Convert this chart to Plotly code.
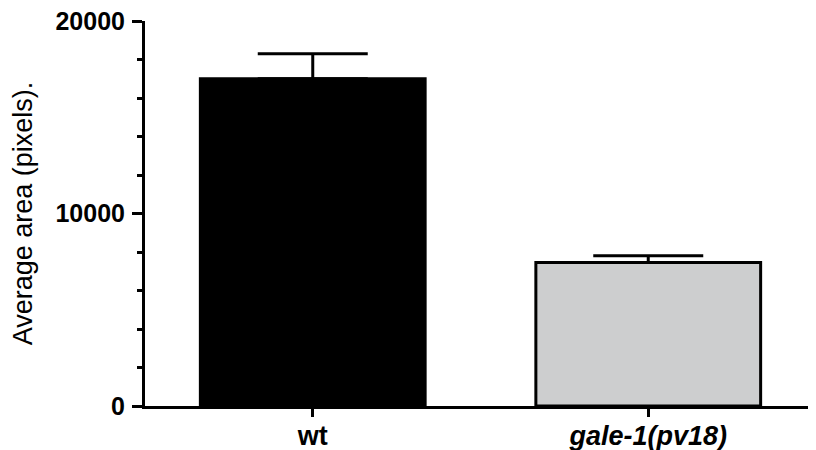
import plotly.graph_objects as go

categories = ["wt", "gale-1(pv18)"]
tick_labels = ["<b>wt</b>", "<b><i>gale-1(pv18)</i></b>"]
means = [17000, 7450]
sem = [1300, 350]
colors = ["#000000", "#CDCECF"]
y_tickvals = [0, 10000, 20000]
y_ticktext = ["<b>0</b>", "<b>10000</b>", "<b>20000</b>"]

fig = go.Figure()
fig.add_trace(go.Bar(
    x=categories, y=means,
    marker=dict(color=colors, line=dict(color="#000000", width=3)),
    width=0.67,
    error_y=dict(type="data", array=sem, arrayminus=[0, 0], symmetric=False,
                 color="#000000", thickness=3, width=55),
    showlegend=False,
))

# page body has an 8px default margin, so the figure is sized to fit inside it
fig.update_layout(
    width=808, height=442,
    margin=dict(l=137, r=0, t=13, b=44, autoexpand=False),
    paper_bgcolor="white", plot_bgcolor="white",
    font=dict(family="Liberation Sans, Arial, sans-serif", color="#000000"),
)
fig.update_xaxes(
    type="category", range=[-0.5, 1.5], automargin=False,
    tickvals=categories, ticktext=tick_labels,
    showline=True, linecolor="#000000", linewidth=3,
    ticks="outside", ticklen=8, tickwidth=3, tickcolor="#000000",
    tickfont=dict(size=27), showgrid=False, zeroline=False,
    ticklabelstandoff=-4, ticklabeloverflow="allow",
)
fig.update_yaxes(
    range=[0, 20000], automargin=False,
    tickvals=y_tickvals, ticktext=y_ticktext,
    showline=True, linecolor="#000000", linewidth=3,
    ticks="outside", ticklen=10, tickwidth=3, tickcolor="#000000",
    minor=dict(dtick=2000, ticks="outside", ticklen=5, tickwidth=3, tickcolor="#000000", showgrid=False),
    tickfont=dict(size=25), showgrid=False, zeroline=False,
    ticklabeloverflow="allow", ticklabelstandoff=2,
    title=dict(text="Average area (pixels).", font=dict(size=27), standoff=20),
)

fig.write_html("out.html")
